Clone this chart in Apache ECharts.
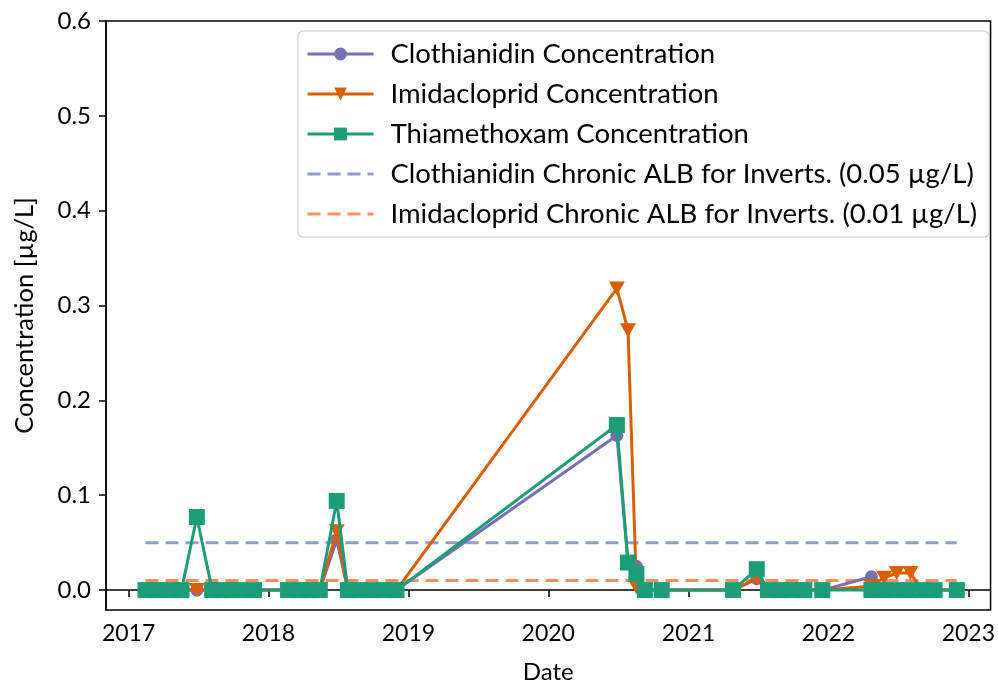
<!DOCTYPE html>
<html>
<head>
<meta charset="utf-8">
<script src="https://cdn.jsdelivr.net/npm/echarts@6/dist/echarts.min.js"></script>
<style>
  html, body { margin: 0; padding: 0; background: #fff; }
  #chart { width: 998px; height: 689px; }
</style>
</head>
<body>
<div id="chart"></div>
<script>
// sampling dates
var dates = [
  '2017-02-14', '2017-03-14', '2017-04-22', '2017-05-19', '2017-06-28',
  '2017-08-07', '2017-09-02', '2017-09-27', '2017-10-23', '2017-11-24',
  '2018-02-21', '2018-03-22', '2018-04-20', '2018-05-15', '2018-06-28',
  '2018-07-27', '2018-08-25', '2018-09-27', '2018-10-30', '2018-12-01',
  '2020-06-28', '2020-07-27', '2020-08-18', '2020-09-09', '2020-10-23',
  '2021-04-27', '2021-06-28', '2021-07-27', '2021-08-29', '2021-09-27',
  '2021-10-30', '2021-12-16', '2022-04-23', '2022-05-26', '2022-06-28',
  '2022-08-03', '2022-09-02', '2022-10-05', '2022-12-02'
];

// concentrations [µg/L]
var clothianidin = [
  0, 0, 0, 0, 0, 0, 0, 0, 0, 0,
  0, 0, 0, 0, 0.053, 0, 0, 0, 0, 0,
  0.163, 0.029, 0.025, 0, 0,
  0, 0.012, 0, 0, 0, 0, 0,
  0.014, 0, 0, 0, 0, 0, 0
];
var imidacloprid = [
  0, 0, 0, 0, 0, 0, 0, 0, 0, 0,
  0, 0, 0, 0, 0.062, 0, 0, 0, 0, 0,
  0.318, 0.274, 0.003, 0, 0,
  0, 0.012, 0, 0, 0, 0, 0,
  0.004, 0.013, 0.018, 0.018, 0, 0, 0
];
var thiamethoxam = [
  0, 0, 0, 0, 0.077, 0, 0, 0, 0, 0,
  0, 0, 0, 0, 0.094, 0, 0, 0, 0, 0,
  0.174, 0.029, 0.017, 0, 0,
  0, 0.022, 0, 0, 0, 0, 0,
  0, 0, 0, 0, 0, 0, 0
];

// chronic aquatic life benchmarks
var clothianidinALB = 0.05;
var imidaclopridALB = 0.01;

var yTicks = [0, 0.1, 0.2, 0.3, 0.4, 0.5, 0.6];
var xYears = [2017, 2018, 2019, 2020, 2021, 2022, 2023];

var FONT = 'Lato';

function ts(s) {
  var p = s.split('-');
  return Date.UTC(+p[0], +p[1] - 1, +p[2]);
}
var times = dates.map(ts);
function zip(vals) {
  return times.map(function (t, i) { return [t, vals[i]]; });
}
function flat(v) {
  return [[times[0], v], [times[times.length - 1], v]];
}
var yearTs = xYears.map(function (y) { return Date.UTC(y, 0, 1); });

var ALB_C = 'Clothianidin Chronic ALB for Inverts. (0.05 µg/L)';
var ALB_I = 'Imidacloprid Chronic ALB for Inverts. (0.01 µg/L)';

var chart = echarts.init(document.getElementById('chart'));
chart.setOption({
  animation: false,
  backgroundColor: '#fff',
  textStyle: { fontFamily: FONT, color: '#000' },
  grid: {
    left: 106, right: 7, top: 21, bottom: 76,
    show: true, borderColor: '#000', borderWidth: 1.5,
    containLabel: false
  },
  legend: {
    orient: 'vertical',
    left: 298, top: 31,
    itemWidth: 66, itemHeight: 16, itemGap: 12,
    padding: [9, 12, 9, 8],
    borderColor: '#cccccc', borderWidth: 1.2, borderRadius: 5,
    backgroundColor: 'rgba(255,255,255,0.8)',
    lineStyle: { width: 3 },
    textStyle: { fontFamily: FONT, fontSize: 27.5, color: '#000', padding: [0, 0, 0, 12] },
    data: [
      'Clothianidin Concentration',
      'Imidacloprid Concentration',
      'Thiamethoxam Concentration',
      { name: ALB_C, itemStyle: { opacity: 0 } },
      { name: ALB_I, itemStyle: { opacity: 0 } }
    ]
  },
  xAxis: {
    type: 'value',
    min: ts('2016-11-03'),
    max: ts('2023-02-28'),
    name: 'Date', nameLocation: 'middle', nameGap: 50,
    nameTextStyle: { fontFamily: FONT, fontSize: 24, color: '#000' },
    axisLine: { lineStyle: { color: '#000', width: 1.5 } },
    axisTick: { show: true, length: 7, inside: false, customValues: yearTs, lineStyle: { color: '#000', width: 1.5 } },
    axisLabel: {
      customValues: yearTs, margin: 12, fontFamily: FONT, fontSize: 23, color: '#000',
      formatter: function (v) { return String(new Date(v).getUTCFullYear()); }
    },
    splitLine: { show: false }
  },
  yAxis: {
    type: 'value',
    min: -0.021, max: 0.6,
    name: 'Concentration [µg/L]', nameLocation: 'middle', nameGap: 68,
    nameTextStyle: { fontFamily: FONT, fontSize: 25.5, color: '#000' },
    axisLine: { show: true, lineStyle: { color: '#000', width: 1.5 } },
    axisTick: { show: true, length: 7, customValues: yTicks, lineStyle: { color: '#000', width: 1.5 } },
    axisLabel: {
      customValues: yTicks, margin: 15, fontFamily: FONT, fontSize: 24, color: '#000',
      formatter: function (v) { return v.toFixed(1); }
    },
    splitLine: { show: false }
  },
  series: [
    {
      name: ALB_C,
      type: 'line', data: flat(clothianidinALB), symbol: 'none', z: 1,
      itemStyle: { color: '#8da0cb' },
      lineStyle: { color: '#8da0cb', width: 3, type: [13, 7] }
    },
    {
      name: ALB_I,
      type: 'line', data: flat(imidaclopridALB), symbol: 'none', z: 1,
      itemStyle: { color: '#fc8d62' },
      lineStyle: { color: '#fc8d62', width: 3, type: [13, 7] }
    },
    {
      name: 'Clothianidin Concentration',
      type: 'line', data: zip(clothianidin), z: 2,
      symbol: 'circle', symbolSize: 13, showAllSymbol: true,
      itemStyle: { color: '#7570b3' },
      lineStyle: { color: '#7570b3', width: 3 }
    },
    {
      name: 'Imidacloprid Concentration',
      type: 'line', data: zip(imidacloprid), z: 3,
      symbol: 'triangle', symbolRotate: 180, symbolSize: [16, 14], showAllSymbol: true,
      itemStyle: { color: '#d95f02' },
      lineStyle: { color: '#d95f02', width: 3 }
    },
    {
      name: 'Thiamethoxam Concentration',
      type: 'line', data: zip(thiamethoxam), z: 4,
      symbol: 'rect', symbolSize: 16, showAllSymbol: true,
      itemStyle: { color: '#1b9e77' },
      lineStyle: { color: '#1b9e77', width: 3 }
    }
  ]
});
</script>
</body>
</html>
